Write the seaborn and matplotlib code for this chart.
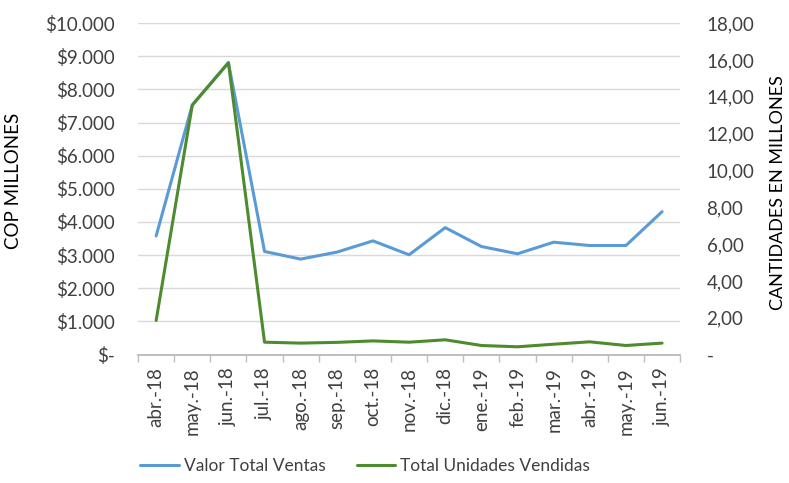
import numpy as np
import pandas as pd
import matplotlib
matplotlib.use("Agg")
import matplotlib.pyplot as plt
import seaborn as sns
from matplotlib.lines import Line2D

# data
meses = ['abr.-18', 'may.-18', 'jun.-18', 'jul.-18', 'ago.-18', 'sep.-18', 'oct.-18',
         'nov.-18', 'dic.-18', 'ene.-19', 'feb.-19', 'mar.-19', 'abr.-19', 'may.-19', 'jun.-19']
valor_ventas = [3580, 7530, 8810, 3110, 2880, 3090, 3430, 3010, 3830, 3260, 3040, 3390, 3290, 3290, 4310]
unidades = [1.85, 13.55, 15.85, 0.67, 0.62, 0.66, 0.74, 0.67, 0.80, 0.49, 0.42, 0.56, 0.69, 0.49, 0.62]

df = pd.DataFrame({'mes': meses, 'pos': range(len(meses)),
                   'valor': valor_ventas, 'unidades': unidades})

sns.set_theme(style='white')
plt.rcParams['font.family'] = ['Lato', 'DejaVu Sans']

azul = '#5B9BD5'
verde = '#4E8B2F'
gris = '#404040'
fs = 13.5

fig = plt.figure(figsize=(7.89, 4.83), dpi=100)
ax = fig.add_axes([0.175, 0.266, 0.687, 0.686])
ax2 = ax.twinx()

sns.lineplot(data=df, x='pos', y='valor', ax=ax, color=azul, linewidth=2.2)
sns.lineplot(data=df, x='pos', y='unidades', ax=ax2, color=verde, linewidth=2.2)

# left axis
ax.set_ylim(0, 10000)
yt = np.arange(0, 10001, 1000)
ax.set_yticks(yt)
ax.set_yticklabels(['$-'] + ['${:,.0f}'.format(v).replace(',', '.') for v in yt[1:]],
                   fontsize=fs, color=gris)
ax.yaxis.grid(True, color='#d9d9d9', linewidth=1)
ax.set_axisbelow(True)
ax.set_ylabel('COP MILLONES', fontsize=fs, color='black')
ax.yaxis.set_label_coords(-0.215, 0.524)

# right axis
ax2.set_ylim(0, 18)
yt2 = np.arange(0, 18.1, 2)
ax2.set_yticks(yt2)
ax2.set_yticklabels(['-'] + ['{:.2f}'.format(v).replace('.', ',') for v in yt2[1:]],
                    fontsize=fs, color=gris)
ax2.set_ylabel('CANTIDADES EN MILLONES', fontsize=13, color='black')
ax2.yaxis.set_label_coords(1.166, 0.49)

# x axis
ax.set_xlim(-0.5, len(meses) - 0.5)
ax.set_xticks(range(len(meses)))
ax.set_xticklabels(meses, rotation=90, fontsize=fs, color=gris)
ax.set_xlabel('')
ax.set_xticks(np.arange(-0.5, len(meses), 1), minor=True)
ax.tick_params(axis='x', which='major', length=0, pad=9)
ax.tick_params(axis='x', which='minor', length=5, color='#bfbfbf', direction='out', bottom=True)
ax.tick_params(axis='y', length=0, pad=17)
ax2.tick_params(axis='y', length=0, pad=19)

for a in (ax, ax2):
    for s in ['top', 'left', 'right']:
        a.spines[s].set_visible(False)
    a.spines['bottom'].set_color('#bfbfbf')

handles = [Line2D([], [], color=azul, linewidth=2.2),
           Line2D([], [], color=verde, linewidth=2.2)]
fig.legend(handles, ['Valor Total Ventas', 'Total Unidades Vendidas'],
           loc='center', bbox_to_anchor=(0.463, 0.035), ncol=2, frameon=False,
           fontsize=12.5, handlelength=2.2, handletextpad=0.3, columnspacing=1.8)
for t in fig.legends[0].get_texts():
    t.set_color(gris)

fig.savefig('out.png', dpi=100)
